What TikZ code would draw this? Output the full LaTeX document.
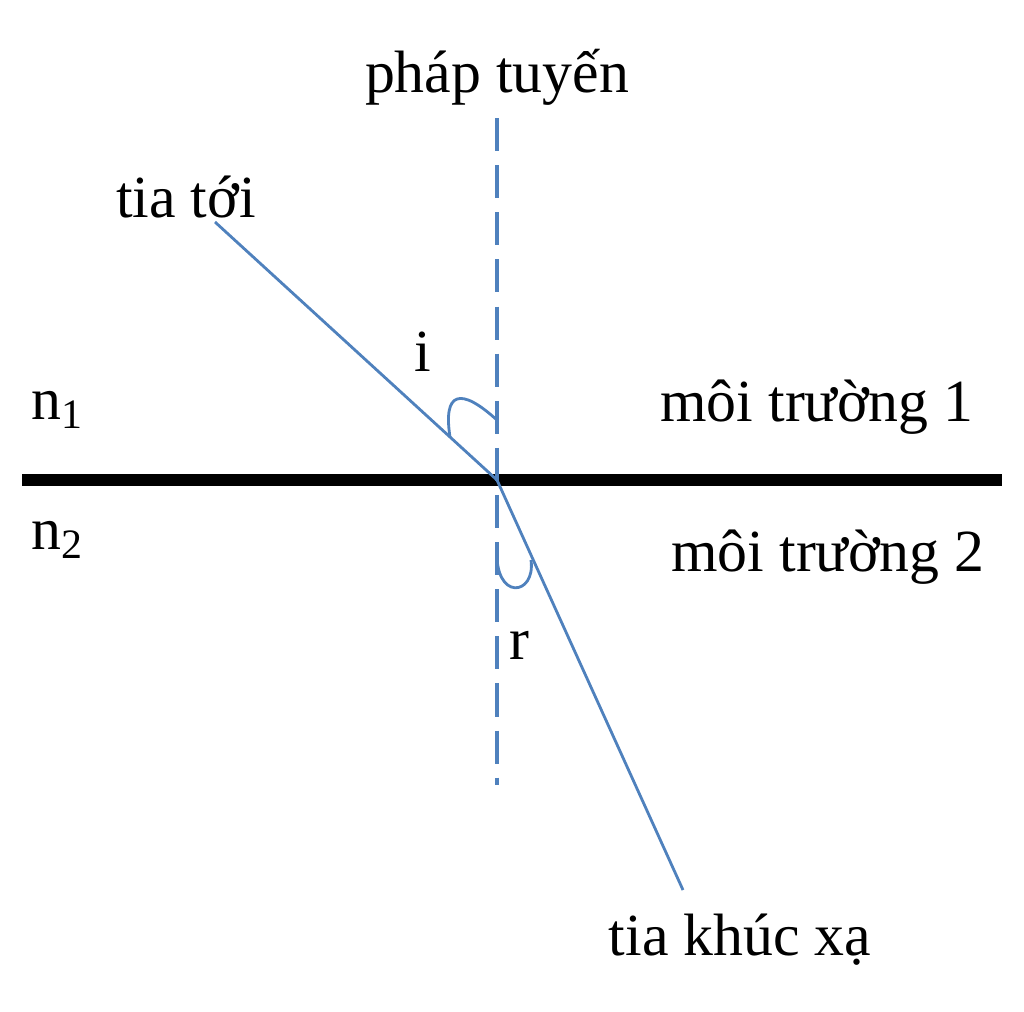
\documentclass[tikz,border=0pt]{standalone}
\usepackage{fontspec}
\setmainfont{Liberation Serif}
\usetikzlibrary{calc}
\definecolor{raycol}{HTML}{4F81BD}
\tikzset{
  ray/.style = {draw=raycol, line width=0.8pt},
  normalline/.style = {draw=raycol, line width=1pt, dash pattern=on 9.4pt off 4pt},
  surface/.style = {draw=black, line width=3.4pt},
  lbl/.style = {inner sep=0pt, font=\fontsize{17}{20}\selectfont}
}
\begin{document}
\begin{tikzpicture}[x=0.01cm, y=-0.01cm]
\useasboundingbox (0,0) rectangle (1024,1011);
% points
\coordinate (O) at (497,480);
\coordinate (A) at (215,222);
\coordinate (B) at (683,890);
\coordinate (Ntop) at (497,118);
\coordinate (Nbot) at (497,785);
\coordinate (Sl) at (22,480);
\coordinate (Sr) at (1002,480);
% surface and normal
\draw[surface] (Sl) -- (Sr);
\draw[normalline] (Ntop) -- (Nbot);
% rays
\draw[ray] (A) -- (O);
\draw[ray] (O) -- (B);
% angles
\draw[ray] (498,421) .. controls (460,386) and (443,392) .. (450,437);
\draw[ray] (497,548) .. controls (494,602) and (536,596) .. (531,560);
% labels
\node[lbl] (normal) at (497,77) {pháp tuyến};
\node[lbl] (inc) at (186,197) {tia tới};
\node[lbl] (angi) at (423,352) {i};
\node[lbl] (n1) at (58,410) {n\textsubscript{1}};
\node[lbl] (med1) at (817,407) {môi trường 1};
\node[lbl] (n2) at (58,540) {n\textsubscript{2}};
\node[lbl] (med2) at (828,557) {môi trường 2};
\node[lbl] (angr) at (519,645) {r};
\node[lbl] (refr) at (740,940) {tia khúc xạ};
\end{tikzpicture}
\end{document}
